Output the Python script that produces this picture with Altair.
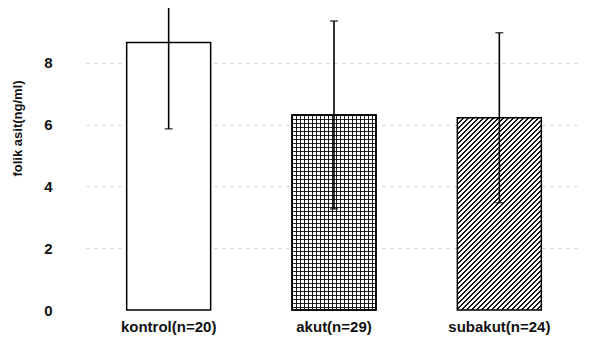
import altair as alt
import pandas as pd

categories = ["kontrol(n=20)", "akut(n=29)", "subakut(n=24)"]
means = [8.65, 6.31, 6.22]
sds = [2.79, 3.04, 2.75]
y_ticks = [0, 2, 4, 6, 8]
y_title = "folik asit(ng/ml)"

df = pd.DataFrame({"group": categories, "mean": means, "sd": sds})
df["lower"] = df["mean"] - df["sd"]
df["upper"] = df["mean"] + df["sd"]

Y_MAX = 9.77
W, H = 496, 302
FONT = "Liberation Sans"


def stripes(n, dark_frac, dark, light, x2, y2):
    stops = []
    for i in range(n):
        a = i / n
        b = (i + dark_frac) / n
        c = (i + 1) / n
        stops += [
            alt.GradientStop(color=dark, offset=a),
            alt.GradientStop(color=dark, offset=b),
            alt.GradientStop(color=light, offset=b),
            alt.GradientStop(color=light, offset=c),
        ]
    return alt.LinearGradient(gradient="linear", stops=stops, x1=0, y1=0, x2=x2, y2=y2)


# pattern fills (style only), periods fixed to whole pixels to avoid moire
bw = W / 3 * (1 - 0.492)                 # bar width in px
bh_s = means[2] * H / Y_MAX              # subakut bar height in px
bh_a = means[1] * H / Y_MAX              # akut bar height in px
n_diag = 56
s = (n_diag * 5.0) / (bw * bw / bh_s + bh_s)
diag = stripes(n_diag, 0.42, "#111111", "#ffffff", s * bw / bh_s, s)
n_v, n_h = 21, 49
vert = stripes(n_v, 0.33, "#1a1a1a", "#ffffff", n_v * 4.0 / bw, 0)
horiz = stripes(n_h, 0.33, "rgba(0,0,0,0.85)", "rgba(0,0,0,0)", 0, n_h * 4.0 / bh_a)

x_enc = alt.X(
    "group:N",
    sort=categories,
    scale=alt.Scale(paddingInner=0.492, paddingOuter=0.246),
    axis=alt.Axis(
        title=None, labelAngle=0, ticks=False, tickSize=0, domain=False,
        labelPadding=9, labelFontSize=15, labelFontWeight="bold",
        labelFont=FONT, labelColor="#111",
    ),
)

y_axis = alt.Axis(
    values=y_ticks, ticks=False, tickSize=0, domain=False,
    labelPadding=34, labelFontSize=15, labelFontWeight="bold",
    labelFont=FONT, labelColor="#111",
    grid=True, gridColor="#c4c4c4", gridDash=[3, 5], gridWidth=0.8,
    gridOpacity=alt.condition(alt.datum.value == 0, alt.value(0), alt.value(1)),
    titleFont=FONT, titleFontSize=13, titleFontWeight="bold", titleColor="#111",
    titleAngle=270, titleAlign="center", titleBaseline="middle",
    titleX=-69, titleY=120,
)
y_scale = alt.Scale(domain=[0, Y_MAX], nice=False)


def yq(field):
    return alt.Y(f"{field}:Q", scale=y_scale, axis=y_axis, title=y_title)


base = alt.Chart(df)

bar_k = base.mark_bar(fill="white", stroke="black", strokeWidth=1.5).encode(
    x=x_enc, y=yq("mean")).transform_filter(alt.datum.group == categories[0])
bar_a1 = base.mark_bar(fill=vert, stroke="black", strokeWidth=1.5).encode(
    x=x_enc, y=yq("mean")).transform_filter(alt.datum.group == categories[1])
bar_a2 = base.mark_bar(fill=horiz, stroke="black", strokeWidth=1.5).encode(
    x=x_enc, y=yq("mean")).transform_filter(alt.datum.group == categories[1])
bar_s = base.mark_bar(fill=diag, stroke="black", strokeWidth=1.5).encode(
    x=x_enc, y=yq("mean")).transform_filter(alt.datum.group == categories[2])

rule = base.mark_rule(color="black", strokeWidth=1.6, clip=True).encode(
    x=x_enc, y=yq("lower"), y2="upper:Q")
cap_lo = base.mark_tick(color="black", size=8, thickness=1.5, clip=True).encode(
    x=x_enc, y=yq("lower"))
cap_hi = base.mark_tick(color="black", size=8, thickness=1.5, clip=True).encode(
    x=x_enc, y=yq("upper"))

chart = alt.layer(bar_k, bar_a1, bar_a2, bar_s, rule, cap_lo, cap_hi).properties(
    width=W, height=H,
    padding={"left": 78, "top": 0, "right": 3, "bottom": 34},
    autosize=alt.AutoSizeParams(type="none"),
    background="white",
).configure_view(stroke=None)

chart.save("out.html", embed_options={"renderer": "svg", "actions": False})
